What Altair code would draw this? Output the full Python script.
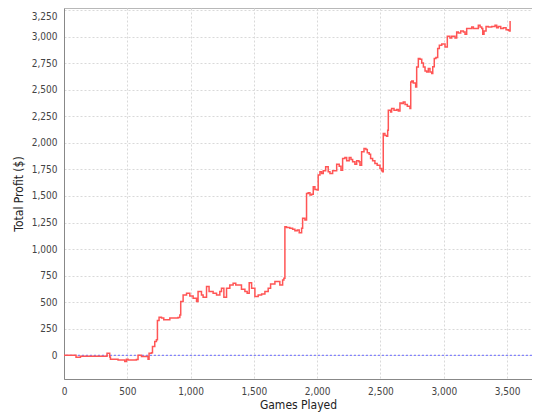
import altair as alt
import pandas as pd

games = [0, 92, 95, 130, 330, 340, 361, 367, 427, 470, 480, 493, 506, 572, 585, 612, 656, 664, 672, 691,
         699, 717, 730, 738, 751, 770, 788, 836, 901, 915, 922, 941, 968, 994, 1020, 1047, 1059, 1086, 1099, 1126,
         1146, 1178, 1205, 1231, 1244, 1263, 1284, 1310, 1336, 1357, 1384, 1402, 1429, 1447, 1463, 1482, 1508, 1534, 1561, 1587,
         1613, 1632, 1666, 1692, 1705, 1727, 1737, 1745, 1758, 1784, 1806, 1824, 1842, 1858, 1877, 1885, 1903, 1916, 1929, 1943,
         1956, 1969, 1982, 2000, 2008, 2022, 2035, 2048, 2067, 2087, 2101, 2122, 2140, 2154, 2174, 2188, 2201, 2219, 2233, 2253,
         2267, 2280, 2298, 2312, 2330, 2338, 2351, 2370, 2385, 2396, 2411, 2422, 2438, 2456, 2474, 2496, 2509, 2517, 2522, 2535,
         2549, 2557, 2562, 2580, 2588, 2607, 2628, 2641, 2654, 2667, 2680, 2694, 2712, 2733, 2739, 2747, 2759, 2778, 2786, 2799,
         2812, 2826, 2839, 2852, 2865, 2878, 2891, 2905, 2913, 2925, 2938, 2952, 2965, 2984, 3002, 3010, 3023, 3028, 3049, 3063,
         3089, 3102, 3115, 3134, 3155, 3168, 3181, 3207, 3221, 3234, 3260, 3273, 3287, 3300, 3308, 3318, 3334, 3352, 3379, 3405,
         3418, 3431, 3450, 3471, 3492, 3510, 3518, 3524]
profit = [0, 0, -19, -10, -10, 20, -17, -36, -45, -45, -58, -36, -45, -40, 0, -12, -12, -36, 20, 25,
          83, 130, 146, 327, 359, 350, 334, 350, 357, 380, 506, 568, 584, 559, 537, 506, 600, 568, 547, 647,
          600, 584, 568, 600, 631, 547, 631, 662, 678, 662, 662, 622, 600, 584, 684, 631, 553, 568, 578, 600,
          631, 672, 694, 694, 662, 709, 725, 1211, 1202, 1195, 1186, 1173, 1180, 1154, 1195, 1289, 1274, 1524, 1530, 1508,
          1517, 1586, 1561, 1555, 1696, 1727, 1712, 1737, 1774, 1727, 1712, 1737, 1737, 1799, 1780, 1743, 1853, 1862, 1831, 1862,
          1843, 1821, 1799, 1831, 1821, 1790, 1915, 1947, 1937, 1906, 1893, 1853, 1831, 1806, 1790, 1759, 1737, 1728, 2088, 2070,
          2063, 2119, 2307, 2291, 2323, 2307, 2313, 2300, 2376, 2370, 2385, 2360, 2345, 2323, 2573, 2582, 2564, 2526, 2714, 2793,
          2786, 2752, 2714, 2677, 2667, 2699, 2667, 2652, 2717, 2793, 2802, 2887, 2918, 2930, 2930, 2902, 2902, 3003, 2987, 3003,
          2987, 3043, 3034, 3053, 3043, 3021, 3075, 3075, 3090, 3075, 3075, 3106, 3090, 3075, 3021, 3053, 3096, 3090, 3096, 3106,
          3084, 3096, 3075, 3084, 3065, 3059, 3053, 3146]

x_ticks = [0, 500, 1000, 1500, 2000, 2500, 3000, 3500]
y_ticks = [0, 250, 500, 750, 1000, 1250, 1500, 1750, 2000, 2250, 2500, 2750, 3000, 3250]

df = pd.DataFrame({"games": games, "profit": profit})
zero_df = pd.DataFrame({"y": [0]})

FONT = "DejaVu Sans Condensed, DejaVu Sans"

x_axis = alt.Axis(title="Games Played", values=x_ticks, format=",d", labelOverlap=False, labelFlush=False)
y_axis = alt.Axis(title="Total Profit ($)", values=y_ticks, format=",d", labelOverlap=False,
                  labelFlush=5, labelFlushOffset=-1)
x_scale = alt.Scale(domain=[0, 3697], nice=False, zero=False)
y_scale = alt.Scale(domain=[-223, 3269], nice=False, zero=False)

zero_rule = alt.Chart(zero_df).mark_rule(color="#4f4fff", strokeWidth=1, strokeDash=[2, 2], opacity=0.85).encode(
    y=alt.Y("y:Q", scale=y_scale, axis=y_axis)
)

line = alt.Chart(df).mark_line(color="#FF5555", strokeWidth=1.5, interpolate="step-after").encode(
    x=alt.X("games:Q", scale=x_scale, axis=x_axis),
    y=alt.Y("profit:Q", scale=y_scale, axis=y_axis),
)

chart = alt.layer(zero_rule, line).properties(
    width=468, height=371,
    padding={"left": 56, "top": 0, "right": 0, "bottom": 33},
    autosize=alt.AutoSizeParams(type="none"),
    background="white",
).configure_view(
    stroke="#b8b8b8", strokeWidth=1, fill="white"
).configure_axis(
    grid=True, gridColor="#d9d9d9", gridDash=[2, 2], gridWidth=1,
    domainColor="#888888", domainWidth=1,
    ticks=False, labelPadding=7,
    labelFont=FONT, labelFontSize=10, labelColor="#444444",
    titleFont=FONT, titleFontSize=12, titleFontWeight="normal", titleColor="#222222",
).configure_axisY(titlePadding=6).configure_axisX(titlePadding=3)

chart.save("out.html", embed_options={"renderer": "svg", "actions": False})
